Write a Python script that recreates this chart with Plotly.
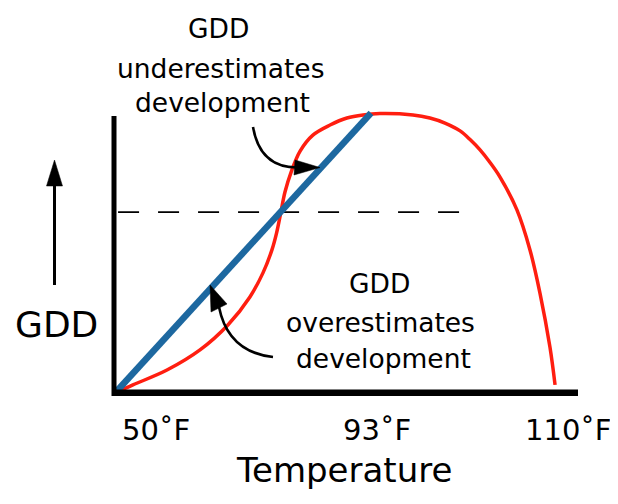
import plotly.graph_objects as go

# ---------------- data (schematic units: 93°F / peak = 100) ----------------
red_x = [0, 7.0, 20.3, 33.2, 44.1, 52.7, 57.8, 61.3, 63.1, 64.8, 66.4, 68.8, 72.3,
         77.3, 84.0, 90.6, 96.9, 103.5, 116.4, 123.0, 128.9, 134.8, 138.7, 142.6,
         146.5, 150.4, 157.0, 162.1, 166.0, 169.9, 171.9]
red_y = [0, 2.9, 8.2, 15.4, 24.3, 34.3, 42.9, 51.1, 57.1, 64.6, 71.8, 78.9, 86.4,
         92.1, 95.7, 98.2, 99.3, 99.8, 99.3, 98.2, 96.4, 93.6, 90.5, 86.8,
         82.3, 77.1, 65.4, 51.1, 35.7, 16.4, 2.9]
blue_x = [0, 100]
blue_y = [0, 100]
thresh_x = [1.2, 134.4]
thresh_y = [64.6, 64.6]
tick_labels = ["50˚F", "93˚F", "110˚F"]

# ---------------- layout helpers (reference pixel -> axis units) ----------------
PAGE_W, PAGE_H = 618, 504
BODY = 8                      # default page margin around the plot div
W, H = PAGE_W - BODY, PAGE_H - BODY
X0, XS = 115, 2.56
Y0, YS = 393, 2.8
def px(v):
    return (v - X0) / XS
def py(v):
    return (Y0 - v) / YS

FONT = "DejaVu Sans"

fig = go.Figure()
fig.add_trace(go.Scatter(x=thresh_x, y=thresh_y, mode="lines",
                         line=dict(color="black", width=1.6, dash="21px,19px"),
                         hoverinfo="skip"))
fig.add_trace(go.Scatter(x=red_x, y=red_y, mode="lines",
                         line=dict(color="#ff1e10", width=3.5, shape="spline", smoothing=1.0),
                         hoverinfo="skip"))
fig.add_trace(go.Scatter(x=blue_x, y=blue_y, mode="lines",
                         line=dict(color="#1d68a0", width=6.5),
                         hoverinfo="skip"))

shapes = [
    # y axis line
    dict(type="line", xref="x", yref="y", x0=px(114), x1=px(114), y0=py(116), y1=py(396),
         line=dict(color="black", width=5)),
    # x axis line
    dict(type="line", xref="x", yref="y", x0=px(112), x1=px(578), y0=py(392.7), y1=py(392.7),
         line=dict(color="black", width=6.5)),
    # left GDD arrow shaft
    dict(type="line", xref="x", yref="y", x0=px(54.5), x1=px(54.5), y0=py(285), y1=py(182),
         line=dict(color="black", width=3)),
    # left GDD arrow head
    dict(type="path", xref="x", yref="y",
         path=f"M {px(54.5)},{py(160)} L {px(46.5)},{py(186)} L {px(62.5)},{py(186)} Z",
         fillcolor="black", line=dict(color="black", width=0.5)),
    # underestimates curved arrow
    dict(type="path", xref="x", yref="y",
         path=f"M {px(253)},{py(127)} Q {px(260)},{py(168)} {px(298)},{py(167.5)}",
         line=dict(color="black", width=2.6)),
    dict(type="path", xref="x", yref="y",
         path=f"M {px(320)},{py(167.5)} L {px(295)},{py(160)} L {px(294)},{py(175)} Z",
         fillcolor="black", line=dict(color="black", width=0.5)),
    # overestimates curved arrow
    dict(type="path", xref="x", yref="y",
         path=f"M {px(273)},{py(357)} Q {px(228)},{py(352)} {px(219)},{py(307)}",
         line=dict(color="black", width=2.6)),
    dict(type="path", xref="x", yref="y",
         path=f"M {px(210)},{py(285)} L {px(211)},{py(312)} L {px(227)},{py(304)} Z",
         fillcolor="black", line=dict(color="black", width=0.5)),
]

def txt(text, cx, baseline, size, xanchor="center"):
    return dict(text=text, xref="x", yref="y", x=px(cx), y=py(baseline - 0.35 * size),
                xanchor=xanchor, yanchor="middle", showarrow=False,
                font=dict(family=FONT, size=size, color="#000000"))

S1 = 26.5
annots = [
    txt("GDD", 218, 38, S1),
    txt("underestimates", 220, 78, S1),
    txt("development", 222, 112, S1),
    txt("GDD", 379, 293, S1),
    txt("overestimates", 380, 332, S1),
    txt("development", 383, 368, S1),
    txt("GDD", 56, 337, 36),
    txt(tick_labels[0], 156, 440, 29),
    txt(tick_labels[1], 377, 440, 29),
    txt(tick_labels[2], 568, 440, 29),
    txt("Temperature", 344, 482, 34),
]

ax = dict(visible=False, showgrid=False, zeroline=False, fixedrange=True)
fig.update_layout(
    width=W, height=H,
    margin=dict(l=0, r=0, t=0, b=0),
    paper_bgcolor="white", plot_bgcolor="white",
    showlegend=False,
    xaxis=dict(ax, range=[px(BODY), px(PAGE_W)]),
    yaxis=dict(ax, range=[py(PAGE_H), py(BODY)]),
    shapes=shapes,
    annotations=annots,
)
fig.write_html("out.html")
